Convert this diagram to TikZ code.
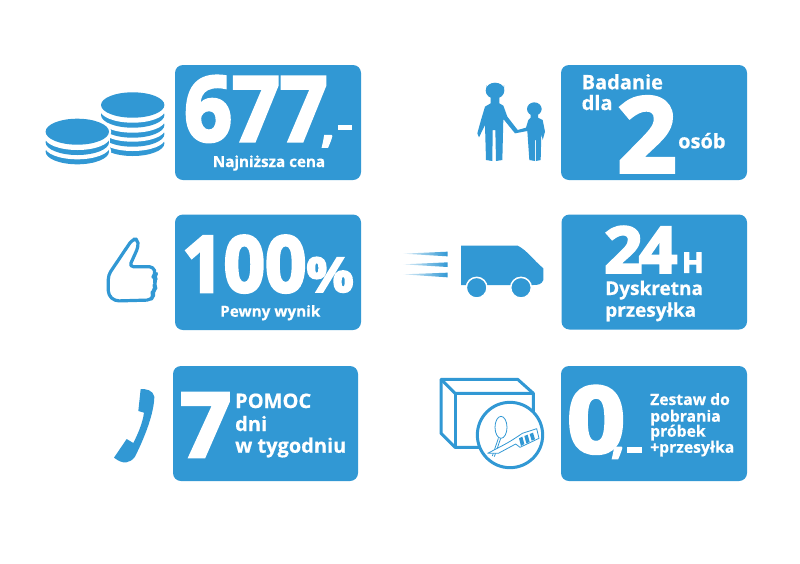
\documentclass[tikz,border=0pt]{standalone}
\usepackage{fontspec}
\setmainfont{Open Sans}[BoldFeatures={FakeBold=0.5}]
\newfontfamily\heavyf[BoldFeatures={FakeBold=3.5}]{Open Sans}
\usetikzlibrary{shapes.geometric}
\definecolor{brand}{HTML}{3198D4}
\newcommand\fsz[1]{\fontsize{#1}{#1}\selectfont\bfseries}
\newcommand\hsz[1]{\heavyf\fontsize{#1}{#1}\selectfont\bfseries}
\tikzset{
  card/.style={fill=brand,rounded corners=8pt,draw=none},
  lab/.style={text=white,inner sep=0pt,anchor=base west},
  icon/.style={fill=brand,draw=none},
  outl/.style={draw=brand,line width=3.2pt,line join=round,fill=white},
  thinl/.style={draw=brand,line width=0.8pt,fill=white,line join=round},
  speedl/.style={left color=brand!15,right color=brand},
  zoomed/.style={x=0.33333pt,y=-0.33333pt}
}
\begin{document}
\begin{tikzpicture}[x=1pt,y=-1pt]
\useasboundingbox (0,0) rectangle (800,563);
\fill[white] (0,0) rectangle (800,563);
% cards
\fill[card] (175,65) rectangle (361,180);
\fill[card] (561,65) rectangle (747,180);
\fill[card] (175,214.5) rectangle (361,330);
\fill[card] (561.5,214.5) rectangle (747,329.5);
\fill[card] (173,366) rectangle (358,481);
\fill[card] (561,366) rectangle (747,481);
% card 1
\node[lab] (t677) at (184,141) {\hsz{90}\scalebox{.93}[1]{677}};
\node[lab] (t1c) at (321,141) {\hsz{46},};
\fill[white] (338,125) rectangle (352,130);
\node[lab,anchor=base] (t1s) at (269,167) {\fsz{15.2}Najniższa cena};
% card 2
\node[lab] at (581.5,89.3) (b1) {\fsz{20}Badanie};
\node[lab] at (581.5,110) (b2) {\fsz{20}dla};
\node[lab] at (617,172) (b3) {\hsz{104}2};
\node[lab] at (678,148.3) (b4) {\fsz{20}osób};
% card 3
\node[lab] at (182,292) (c1) {\hsz{78}\scalebox{.93}[1]{100}};
\node[lab] at (306,292) (c2) {\hsz{48}\scalebox{1.1}[1]{\%}};
\node[lab] at (220,316.7) (c3) {\fsz{15.3}Pewny wynik};
% card 4
\node[lab] at (604,272.7) (d1) {\hsz{64}\scalebox{1.05}[1]{2\kern-3.5pt 4}};
\node[lab] at (682,272.7) (d2) {\hsz{28}H};
\node[lab] at (605,295) (d3) {\fsz{19}Dyskretna};
\node[lab] at (605,316.7) (d4) {\fsz{19}przesyłka};
% card 5
\node[lab] at (180,456.7) (e1) {\hsz{89}7};
\node[lab] at (235,408) (e2) {\fsz{20}POMOC};
\node[lab] at (235,431) (e3) {\fsz{20}dni};
\node[lab] at (235,452.7) (e4) {\fsz{20}w tygodniu};
% card 6
\node[lab] at (567,452.7) (f1) {\hsz{92}\scalebox{1.1}[1]{0}};
\node[lab] at (611,452.7) (f2) {\hsz{46},};
\fill[white] (627,447) rectangle (642,453);
\node[lab] at (650,405) (f3) {\fsz{15.7}Zestaw do};
\node[lab] at (650,421.7) (f4) {\fsz{15.7}pobrania};
\node[lab] at (650,436.7) (f5) {\fsz{15.7}próbek};
\node[lab] at (650,452.7) (f6) {\fsz{15.7}+przesyłka};
% coins: right stack
\foreach \yy in {143.3,134,125,115}{
  \fill[brand] (132.7,\yy) ellipse (31.7 and 12.7);
  \fill[white] (132.7,\yy-5) ellipse (32.5 and 12.7);
}
\fill[brand] (132.7,105) ellipse (31.7 and 12.7);
% coins: left stack, with a white halo over the right stack
\fill[white] (76.7,151.6) ellipse (34.5 and 15);
\fill[white] (76.7,131.7) ellipse (34.5 and 15);
\fill[white] (43,131.7) rectangle (110,151.6);
\foreach \yy in {151.6,142.3}{
  \fill[brand] (77.3,\yy) ellipse (31.7 and 12.7);
  \fill[white] (77.3,\yy-5) ellipse (32.5 and 12.7);
}
\fill[brand] (77.3,131.7) ellipse (31.7 and 13);
% people
\begin{scope}[shift={(470,75)},zoomed]
\fill[icon] (75,47) ellipse (28 and 24);
\fill[icon,rounded corners=6pt] (50,26) rectangle (102,48);
\fill[icon] (193,102) ellipse (22 and 20);
\fill[icon] (62,68) -- (62,85) -- (45,95) -- (33,135) -- (22,175) -- (27,187) -- (45,150) -- (48,255) -- (67,258) -- (68,165) -- (76,165) -- (78,258) -- (97,255) -- (100,132) -- (135,175) -- (172,168) -- (178,255) -- (195,258) -- (195,195) -- (198,195) -- (198,258) -- (212,255) -- (214,175) -- (218,195) -- (225,170) -- (218,135) -- (204,128) -- (204,116) -- (182,116) -- (182,128) -- (175,135) -- (168,158) -- (143,165) -- (112,125) -- (100,92) -- (88,85) -- (88,68) -- cycle;
\end{scope}
% thumb
\begin{scope}[shift={(95,205)},zoomed]
\draw[outl,rounded corners=4pt] (40,210) -- (112,103) -- (128,102) -- (130,125) -- (103,185) -- (175,185) -- (182,208) -- (176,214) -- (182,222) -- (178,240) -- (182,250) -- (172,262) -- (175,272) -- (168,285) -- (60,288) -- (40,270) -- cycle;
\end{scope}
% truck
\begin{scope}[shift={(395,205)},zoomed]
\shade[speedl] (25,146) -- (158,140) -- (158,154) -- cycle;
\shade[speedl] (25,178) -- (158,172) -- (158,186) -- cycle;
\shade[speedl] (25,208) -- (158,203) -- (158,217) -- cycle;
\fill[icon] (198,122) -- (368,122) .. controls (395,135) and (415,165) .. (445,190) -- (445,225) .. controls (440,238) and (430,240) .. (415,240) -- (198,240) -- cycle;
\fill[brand,draw=white,line width=1.5pt] (245,248) circle (31);
\fill[brand,draw=white,line width=1.5pt] (378,248) circle (31);
\end{scope}
% phone
\begin{scope}[shift={(100,355)},zoomed]
\fill[icon] (122,102) .. controls (140,102) and (158,105) .. (163,125) .. controls (162,175) and (135,245) .. (105,305) .. controls (90,325) and (70,330) .. (42,308) -- (80,252) -- (100,264) .. controls (112,240) and (128,205) .. (132,173) -- (115,168) -- cycle;
\end{scope}
% box
\begin{scope}[shift={(435,370)},zoomed]
\draw[outl,line width=3pt] (18,28) -- (248,28) -- (295,70) -- (295,232) -- (60,232) -- (18,190) -- cycle;
\draw[draw=brand,line width=3pt] (18,28) -- (60,70) -- (295,70);
\draw[draw=brand,line width=3pt] (60,70) -- (60,232);
\draw[outl,line width=3pt] (225,195) circle (98);
% swab
\draw[thinl] (198,172) ellipse (18 and 33);
\draw[thinl] (190,205) -- (172,258);
\draw[thinl] (197,205) -- (178,260);
% toothbrush
\draw[thinl] (158,250) -- (200,228) .. controls (225,215) and (240,205) .. (262,190) -- (305,176) -- (312,205) -- (255,232) -- (242,222) -- (190,250) -- cycle;
\fill[icon] (252,205) -- (262,200) -- (268,222) -- (258,228) -- cycle;
\fill[icon] (268,198) -- (278,194) -- (284,216) -- (274,220) -- cycle;
\fill[icon] (284,192) -- (294,188) -- (300,208) -- (290,212) -- cycle;
\end{scope}
\end{tikzpicture}
\end{document}
